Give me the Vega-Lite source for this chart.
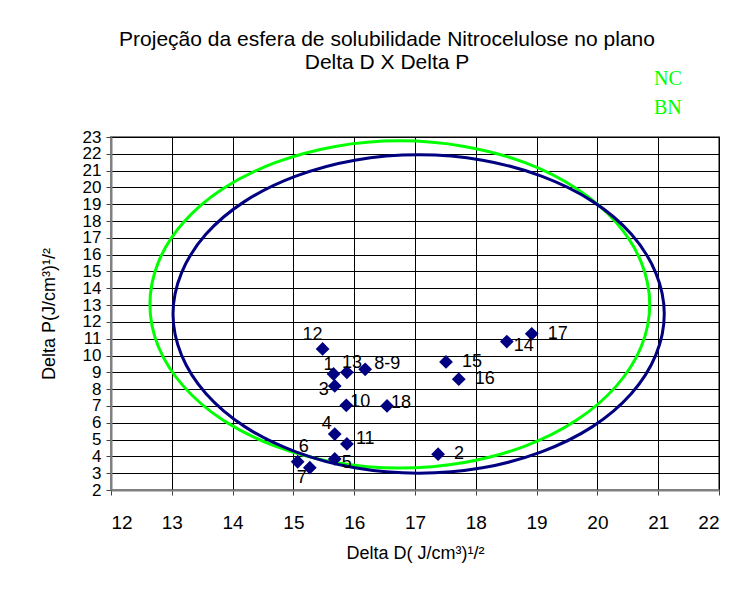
{
  "$schema": "https://vega.github.io/schema/vega-lite/v6.json",
  "width": 608,
  "height": 353,
  "autosize": {"type": "none"},
  "padding": {"left": 111, "top": 137, "right": 26, "bottom": 99},
  "background": "white",
  "config": {
    "font": "Liberation Sans",
    "view": {"stroke": "#808080", "strokeWidth": 2},
    "axis": {
      "grid": true,
      "gridColor": "black",
      "gridOpacity": 1,
      "gridWidth": 1,
      "tickColor": "#404040",
      "tickSize": 5,
      "domainColor": "#808080",
      "domainWidth": 2,
      "labelColor": "black",
      "titleColor": "black",
      "labelFont": "Liberation Sans",
      "titleFont": "Liberation Sans",
      "titleFontWeight": "normal",
      "labelOverlap": false
    }
  },
  "title": {
    "text": ["Projeção da esfera de solubilidade Nitrocelulose no plano", "Delta D X Delta P"],
    "font": "Liberation Sans",
    "fontSize": 21,
    "fontWeight": "normal",
    "color": "black",
    "anchor": "middle",
    "frame": "group",
    "dx": -28,
    "offset": -4,
    "lineHeight": 23
  },
  "datasets": {
    "solventes": [
      {"rotulo": "1", "dD": 15.66, "dP": 8.9},
      {"rotulo": "2", "dD": 17.38, "dP": 4.13},
      {"rotulo": "3", "dD": 15.68, "dP": 8.19},
      {"rotulo": "4", "dD": 15.68, "dP": 5.33},
      {"rotulo": "5", "dD": 15.68, "dP": 3.85},
      {"rotulo": "6", "dD": 15.07, "dP": 3.68},
      {"rotulo": "7", "dD": 15.27, "dP": 3.33},
      {"rotulo": "8-9", "dD": 16.18, "dP": 9.18},
      {"rotulo": "10", "dD": 15.87, "dP": 7.04},
      {"rotulo": "11", "dD": 15.88, "dP": 4.74},
      {"rotulo": "12", "dD": 15.48, "dP": 10.39},
      {"rotulo": "13", "dD": 15.88, "dP": 9.0},
      {"rotulo": "14", "dD": 18.51, "dP": 10.83},
      {"rotulo": "15", "dD": 17.51, "dP": 9.62},
      {"rotulo": "16", "dD": 17.72, "dP": 8.59},
      {"rotulo": "17", "dD": 18.92, "dP": 11.29},
      {"rotulo": "18", "dD": 16.54, "dP": 7.0}
    ],
    "esferas": [
      {"esfera": "NC", "ordem": 0, "dD": 20.86, "dP": 13.04},
      {"esfera": "NC", "ordem": 1, "dD": 20.72, "dP": 15.56},
      {"esfera": "NC", "ordem": 2, "dD": 20.31, "dP": 17.91},
      {"esfera": "NC", "ordem": 3, "dD": 19.66, "dP": 19.92},
      {"esfera": "NC", "ordem": 4, "dD": 18.81, "dP": 21.47},
      {"esfera": "NC", "ordem": 5, "dD": 17.81, "dP": 22.44},
      {"esfera": "NC", "ordem": 6, "dD": 16.75, "dP": 22.77},
      {"esfera": "NC", "ordem": 7, "dD": 15.69, "dP": 22.44},
      {"esfera": "NC", "ordem": 8, "dD": 14.7, "dP": 21.47},
      {"esfera": "NC", "ordem": 9, "dD": 13.84, "dP": 19.92},
      {"esfera": "NC", "ordem": 10, "dD": 13.19, "dP": 17.91},
      {"esfera": "NC", "ordem": 11, "dD": 12.78, "dP": 15.56},
      {"esfera": "NC", "ordem": 12, "dD": 12.64, "dP": 13.04},
      {"esfera": "NC", "ordem": 13, "dD": 12.78, "dP": 10.52},
      {"esfera": "NC", "ordem": 14, "dD": 13.19, "dP": 8.18},
      {"esfera": "NC", "ordem": 15, "dD": 13.84, "dP": 6.16},
      {"esfera": "NC", "ordem": 16, "dD": 14.7, "dP": 4.61},
      {"esfera": "NC", "ordem": 17, "dD": 15.69, "dP": 3.64},
      {"esfera": "NC", "ordem": 18, "dD": 16.75, "dP": 3.31},
      {"esfera": "NC", "ordem": 19, "dD": 17.81, "dP": 3.64},
      {"esfera": "NC", "ordem": 20, "dD": 18.81, "dP": 4.61},
      {"esfera": "NC", "ordem": 21, "dD": 19.66, "dP": 6.16},
      {"esfera": "NC", "ordem": 22, "dD": 20.31, "dP": 8.18},
      {"esfera": "NC", "ordem": 23, "dD": 20.72, "dP": 10.52},
      {"esfera": "BN", "ordem": 0, "dD": 21.1, "dP": 12.47},
      {"esfera": "BN", "ordem": 1, "dD": 20.96, "dP": 14.92},
      {"esfera": "BN", "ordem": 2, "dD": 20.56, "dP": 17.21},
      {"esfera": "BN", "ordem": 3, "dD": 19.92, "dP": 19.17},
      {"esfera": "BN", "ordem": 4, "dD": 19.08, "dP": 20.67},
      {"esfera": "BN", "ordem": 5, "dD": 18.11, "dP": 21.62},
      {"esfera": "BN", "ordem": 6, "dD": 17.06, "dP": 21.94},
      {"esfera": "BN", "ordem": 7, "dD": 16.01, "dP": 21.62},
      {"esfera": "BN", "ordem": 8, "dD": 15.04, "dP": 20.67},
      {"esfera": "BN", "ordem": 9, "dD": 14.2, "dP": 19.17},
      {"esfera": "BN", "ordem": 10, "dD": 13.56, "dP": 17.21},
      {"esfera": "BN", "ordem": 11, "dD": 13.16, "dP": 14.92},
      {"esfera": "BN", "ordem": 12, "dD": 13.02, "dP": 12.47},
      {"esfera": "BN", "ordem": 13, "dD": 13.16, "dP": 10.02},
      {"esfera": "BN", "ordem": 14, "dD": 13.56, "dP": 7.74},
      {"esfera": "BN", "ordem": 15, "dD": 14.2, "dP": 5.77},
      {"esfera": "BN", "ordem": 16, "dD": 15.04, "dP": 4.27},
      {"esfera": "BN", "ordem": 17, "dD": 16.01, "dP": 3.32},
      {"esfera": "BN", "ordem": 18, "dD": 17.06, "dP": 3.0},
      {"esfera": "BN", "ordem": 19, "dD": 18.11, "dP": 3.32},
      {"esfera": "BN", "ordem": 20, "dD": 19.08, "dP": 4.27},
      {"esfera": "BN", "ordem": 21, "dD": 19.92, "dP": 5.77},
      {"esfera": "BN", "ordem": 22, "dD": 20.56, "dP": 7.74},
      {"esfera": "BN", "ordem": 23, "dD": 20.96, "dP": 10.02}
    ]
  },
  "encoding": {
    "x": {
      "field": "dD", "type": "quantitative",
      "scale": {"domain": [12, 22], "nice": false, "zero": false},
      "axis": {
        "title": "Delta D( J/cm³)¹/²",
        "values": [12, 13, 14, 15, 16, 17, 18, 19, 20, 21, 22],
        "labelFontSize": 19,
        "labelPadding": 18,
        "titleFontSize": 18,
        "titlePadding": 12
      }
    },
    "y": {
      "field": "dP", "type": "quantitative",
      "scale": {"domain": [2, 23], "nice": false, "zero": false},
      "axis": {
        "title": "Delta P(J/cm³)¹/²",
        "values": [2, 3, 4, 5, 6, 7, 8, 9, 10, 11, 12, 13, 14, 15, 16, 17, 18, 19, 20, 21, 22, 23],
        "labelFontSize": 17,
        "labelPadding": 5,
        "titleFontSize": 18,
        "titlePadding": 24
      }
    }
  },
  "layer": [
    {
      "data": {"name": "esferas"},
      "mark": {"type": "line", "interpolate": "cardinal-closed", "strokeWidth": 3},
      "encoding": {
        "order": {"field": "ordem", "type": "quantitative"},
        "color": {
          "field": "esfera", "type": "nominal",
          "scale": {"domain": ["NC", "BN"], "range": ["#00FF00", "#000080"]},
          "legend": {
            "title": null,
            "orient": "none",
            "legendX": 523,
            "legendY": -68,
            "labelFont": "Liberation Serif",
            "labelFontSize": 20,
            "labelColor": "#00FF00",
            "symbolOpacity": 0,
            "symbolSize": 0,
            "symbolStrokeWidth": 0,
            "rowPadding": 9,
            "labelOffset": 0
          }
        }
      }
    },
    {
      "data": {"name": "solventes"},
      "mark": {"type": "point", "shape": "diamond", "filled": true, "color": "#000080", "size": 190, "opacity": 1}
    },
    {
      "data": {"name": "solventes"},
      "transform": [{"filter": {"field": "rotulo", "oneOf": ["2", "15", "16", "17"]}}],
      "mark": {"type": "text", "align": "left", "baseline": "middle", "dx": 16, "dy": 0, "fontSize": 18, "color": "black"},
      "encoding": {"text": {"field": "rotulo"}}
    },
    {
      "data": {"name": "solventes"},
      "transform": [{"filter": {"field": "rotulo", "oneOf": ["10", "18"]}}],
      "mark": {"type": "text", "align": "left", "baseline": "middle", "dx": 4, "dy": -3, "fontSize": 18, "color": "black"},
      "encoding": {"text": {"field": "rotulo"}}
    },
    {
      "data": {"name": "solventes"},
      "transform": [{"filter": {"field": "rotulo", "oneOf": ["8-9", "11"]}}],
      "mark": {"type": "text", "align": "left", "baseline": "middle", "dx": 9, "dy": -5, "fontSize": 18, "color": "black"},
      "encoding": {"text": {"field": "rotulo"}}
    },
    {
      "data": {"name": "solventes"},
      "transform": [{"filter": {"field": "rotulo", "oneOf": ["5", "14"]}}],
      "mark": {"type": "text", "align": "left", "baseline": "middle", "dx": 7, "dy": 4, "fontSize": 18, "color": "black"},
      "encoding": {"text": {"field": "rotulo"}}
    },
    {
      "data": {"name": "solventes"},
      "transform": [{"filter": {"field": "rotulo", "equal": "12"}}],
      "mark": {"type": "text", "align": "center", "baseline": "middle", "dx": -10, "dy": -14, "fontSize": 18, "color": "black"},
      "encoding": {"text": {"field": "rotulo"}}
    },
    {
      "data": {"name": "solventes"},
      "transform": [{"filter": {"field": "rotulo", "equal": "1"}}],
      "mark": {"type": "text", "align": "right", "baseline": "middle", "dx": 0, "dy": -9, "fontSize": 18, "color": "black"},
      "encoding": {"text": {"field": "rotulo"}}
    },
    {
      "data": {"name": "solventes"},
      "transform": [{"filter": {"field": "rotulo", "equal": "13"}}],
      "mark": {"type": "text", "align": "left", "baseline": "middle", "dx": -5, "dy": -9, "fontSize": 18, "color": "black"},
      "encoding": {"text": {"field": "rotulo"}}
    },
    {
      "data": {"name": "solventes"},
      "transform": [{"filter": {"field": "rotulo", "equal": "3"}}],
      "mark": {"type": "text", "align": "right", "baseline": "middle", "dx": -6, "dy": 4, "fontSize": 18, "color": "black"},
      "encoding": {"text": {"field": "rotulo"}}
    },
    {
      "data": {"name": "solventes"},
      "transform": [{"filter": {"field": "rotulo", "equal": "4"}}],
      "mark": {"type": "text", "align": "right", "baseline": "middle", "dx": -3, "dy": -10, "fontSize": 18, "color": "black"},
      "encoding": {"text": {"field": "rotulo"}}
    },
    {
      "data": {"name": "solventes"},
      "transform": [{"filter": {"field": "rotulo", "equal": "6"}}],
      "mark": {"type": "text", "align": "center", "baseline": "middle", "dx": 6, "dy": -15, "fontSize": 18, "color": "black"},
      "encoding": {"text": {"field": "rotulo"}}
    },
    {
      "data": {"name": "solventes"},
      "transform": [{"filter": {"field": "rotulo", "equal": "7"}}],
      "mark": {"type": "text", "align": "center", "baseline": "middle", "dx": -8, "dy": 10, "fontSize": 18, "color": "black"},
      "encoding": {"text": {"field": "rotulo"}}
    }
  ]
}
